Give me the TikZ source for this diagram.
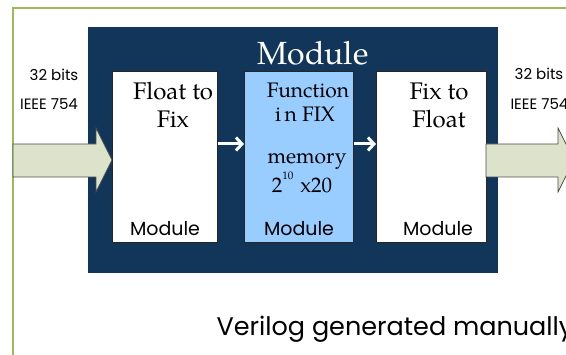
\documentclass[tikz,border=0pt]{standalone}
\usepackage{fontspec}
\setsansfont{Poppins}
\newfontfamily\serifface{TeX Gyre Pagella}
\usetikzlibrary{arrows.meta,shapes.arrows}
\definecolor{navy}{HTML}{12365A}
\definecolor{paleblue}{HTML}{99CCFF}
\definecolor{sage}{HTML}{DDE2CB}
\definecolor{leaf}{HTML}{9BBB59}
\tikzset{
  unitbox/.style={draw=black!85, line width=0.8pt, anchor=north west, inner sep=0pt},
  boxtext/.style={font=\serifface\fontsize{24}{28}\selectfont, anchor=base},
  smalltext/.style={font=\serifface\fontsize{21}{24}\selectfont, anchor=base},
  modlabel/.style={font=\sffamily\fontsize{19}{22}\selectfont, anchor=base},
  bitlabel/.style={font=\sffamily\fontsize{15}{18}\selectfont, anchor=base},
  bigarrow/.style={fill=sage, draw=black!70, line width=0.7pt},
  linkarrow/.style={white, line width=3pt, -{Straight Barb[length=6pt,width=13pt,line width=3pt]}}
}
\begin{document}
\begin{tikzpicture}[x=1pt,y=-1pt]
\useasboundingbox (0,0) rectangle (566,355);
\begin{scope}
\clip (0,0) rectangle (566,355);
% outer frame
\draw[leaf, line width=1.4pt] (13,8) rectangle (600,400);
% module body
\fill[navy] (88,27) rectangle (498,273);
\node[font=\serifface\fontsize{32}{34}\selectfont, white, anchor=base] (title) at (313,65) {Module};
% the three stages
\node[unitbox, fill=white, minimum width=105pt, minimum height=171pt] (f2x) at (112,71) {};
\node[unitbox, fill=paleblue, minimum width=109pt, minimum height=171pt] (fun) at (244,71) {};
\node[unitbox, fill=white, minimum width=110pt, minimum height=171pt] (x2f) at (376,71) {};
\node[boxtext] (t1a) at (173,100) {Float to};
\node[boxtext] (t1b) at (173,128) {Fix};
\node[boxtext] (t3a) at (439,100) {Fix to};
\node[boxtext] (t3b) at (439,128) {Float};
\node[smalltext] (t2a) at (308,98) {Function};
\node[smalltext] (t2b) at (305,122) {i\,n FIX};
\node[smalltext] (t2c) at (307,164) {memory};
\node[smalltext] (t2d) at (302,193) {2\raisebox{13pt}{\fontsize{11}{11}\selectfont 10}\,\,x20};
\node[modlabel] (m1) at (165,236) {Module};
\node[modlabel] (m2) at (299,236) {Module};
\node[modlabel] (m3) at (438,236) {Module};
% data flow between the stages
\coordinate (a1) at (f2x.east |- 0,144);
\coordinate (b1) at (fun.west |- 0,144);
\coordinate (a2) at (fun.east |- 0,144);
\coordinate (b2) at (x2f.west |- 0,144);
\draw[linkarrow] (a1) -- (b1);
\draw[linkarrow] (a2) -- (b2);
% input and output arrows
\draw[bigarrow] (13,144) -- (96,144) -- (96,128) -- (112,160) -- (96,192) -- (96,177) -- (13,177) -- cycle;
\draw[bigarrow] (486,144) -- (558,144) -- (558,128) -- (574,160) -- (558,192) -- (558,177) -- (486,177) -- cycle;
\node[bitlabel] (in1) at (54,81) {32 bits};
\node[bitlabel] (in2) at (49,110) {IEEE 754};
\node[bitlabel] (out1) at (539,80) {32 bits};
\node[bitlabel, anchor=base west] (out2) at (507,110) {IEEE 754};
\node[font=\sffamily\fontsize{25.5}{28}\selectfont, anchor=base west] (cap) at (213,336) {Verilog generated manually};
\end{scope}
\end{tikzpicture}
\end{document}
